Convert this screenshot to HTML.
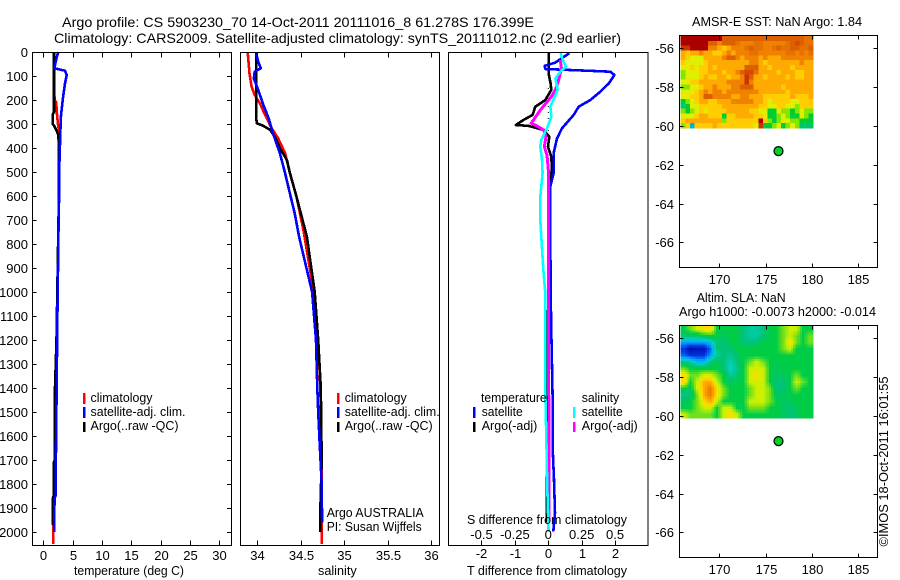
<!DOCTYPE html>
<html>
<head>
<meta charset="utf-8">
<title>Argo profile</title>
<style>
html,body{margin:0;padding:0;background:#fff;width:900px;height:580px;overflow:hidden}
svg{display:block}
text{font-family:"Liberation Sans",sans-serif;font-size:13px;fill:#000}
</style>
</head>
<body>
<svg id="chart" xmlns="http://www.w3.org/2000/svg" width="900" height="580" viewBox="0 0 900 580">
  <text x="62" y="27" font-size="14" style="font-size:14px" textLength="472" lengthAdjust="spacingAndGlyphs">Argo profile: CS 5903230_70 14-Oct-2011 20111016_8 61.278S 176.399E</text>
  <text x="54" y="43" style="font-size:14px" textLength="567" lengthAdjust="spacingAndGlyphs">Climatology: CARS2009. Satellite-adjusted climatology: synTS_20111012.nc (2.9d earlier)</text>
  <g id="marks"></g>
  <g id="frames"></g>

  <g>
    <rect x="83" y="393" width="2.5" height="11" fill="#f00"/>
    <rect x="83" y="407" width="2.5" height="11" fill="#00f"/>
    <rect x="83" y="422" width="2.5" height="10" fill="#000"/>
    <text x="90.5" y="402" textLength="62" lengthAdjust="spacingAndGlyphs">climatology</text>
    <text x="90.5" y="416" textLength="95" lengthAdjust="spacingAndGlyphs">satellite-adj. clim.</text>
    <text x="90.5" y="430" textLength="88" lengthAdjust="spacingAndGlyphs">Argo(..raw -QC)</text>
  </g>
  <g>
    <rect x="337" y="393" width="2.5" height="11" fill="#f00"/>
    <rect x="337" y="407" width="2.5" height="11" fill="#00f"/>
    <rect x="337" y="422" width="2.5" height="10" fill="#000"/>
    <text x="344.7" y="402" textLength="62" lengthAdjust="spacingAndGlyphs">climatology</text>
    <text x="344.7" y="416" textLength="95" lengthAdjust="spacingAndGlyphs">satellite-adj. clim.</text>
    <text x="344.7" y="430" textLength="88" lengthAdjust="spacingAndGlyphs">Argo(..raw -QC)</text>
    <text x="326.7" y="517" textLength="97" lengthAdjust="spacingAndGlyphs">Argo AUSTRALIA</text>
    <text x="326.7" y="531" textLength="95" lengthAdjust="spacingAndGlyphs">PI: Susan Wijffels</text>
  </g>
  <g>
    <text x="481" y="402" textLength="65.7" lengthAdjust="spacingAndGlyphs">temperature</text>
    <rect x="473" y="407" width="2.5" height="11" fill="#00f"/>
    <rect x="473" y="422" width="2.5" height="10" fill="#000"/>
    <text x="481.7" y="416" textLength="41" lengthAdjust="spacingAndGlyphs">satellite</text>
    <text x="481.7" y="430" textLength="55.6" lengthAdjust="spacingAndGlyphs">Argo(-adj)</text>
    <text x="581.7" y="402" textLength="37.5" lengthAdjust="spacingAndGlyphs">salinity</text>
    <rect x="573" y="407" width="2.5" height="11" fill="#0ff"/>
    <rect x="573" y="422" width="2.5" height="10" fill="#f0f"/>
    <text x="581.7" y="416" textLength="41" lengthAdjust="spacingAndGlyphs">satellite</text>
    <text x="581.7" y="430" textLength="56" lengthAdjust="spacingAndGlyphs">Argo(-adj)</text>
  </g>

  <text x="74" y="575" textLength="110" lengthAdjust="spacingAndGlyphs">temperature (deg C)</text>
  <text x="318" y="575" textLength="38.7" lengthAdjust="spacingAndGlyphs">salinity</text>
  <text x="467" y="575" textLength="160" lengthAdjust="spacingAndGlyphs">T difference from climatology</text>
  <text x="467" y="524" textLength="160" lengthAdjust="spacingAndGlyphs">S difference from climatology</text>

  <text x="692" y="26" textLength="170" lengthAdjust="spacingAndGlyphs">AMSR-E SST: NaN Argo: 1.84</text>
  <text x="696.7" y="302" textLength="89" lengthAdjust="spacingAndGlyphs">Altim. SLA: NaN</text>
  <text x="679" y="316" textLength="197" lengthAdjust="spacingAndGlyphs">Argo h1000: -0.0073 h2000: -0.014</text>
  <text transform="translate(888,546.5) rotate(-90)" textLength="170" lengthAdjust="spacingAndGlyphs">©IMOS 18-Oct-2011 16:01:55</text>
</svg>
<script>
// ---------- depth scale ----------
const depthTicks = [0,100,200,300,400,500,600,700,800,900,1000,1100,1200,1300,1400,1500,1600,1700,1800,1900,2000];

// ---------- temperature panel ----------
const tempTicks = [0,5,10,15,20,25,30];
const tempClimDepth = [0,100,200,210,250,290,330,400,600,900,1200,1400,1700,1970,2050];
const tempClimValue = [1.85,1.85,1.9,2.2,2.3,2.45,2.67,2.68,2.65,2.5,2.3,2.2,2.0,1.7,1.7];
const tempSatDepth = [0,20,68,78,96,131,200,270,340,478,600,700,900,1200,1400,1550,1700,1850,1860,2000];
const tempSatValue = [2.55,2.3,1.87,3.7,3.98,3.7,3.3,3.0,2.9,2.73,2.7,2.6,2.5,2.35,2.28,2.2,2.15,2.1,1.9,1.87];
const tempArgoDepth = [0,250,260,300,310,330,345,400,600,900,1200,1400,1490,1700,1710,1850,1860,1970];
const tempArgoValue = [1.82,1.82,1.6,1.6,1.9,2.3,2.55,2.68,2.65,2.45,2.25,2.0,2.0,2.0,1.77,1.77,1.6,1.6];

// ---------- salinity panel ----------
const salTicks = [34,34.5,35,35.5,36];
const salClimDepth = [0,89,144,179,214,262,318,360,422,505,603,742,1000,1200,1400,1700,2050];
const salClimValue = [33.89,33.91,33.935,33.97,34.03,34.09,34.165,34.24,34.32,34.375,34.45,34.53,34.65,34.7,34.725,34.74,34.74];
const salSatDepth = [5,40,68,82,110,158,221,276,339,422,505,589,672,770,1000,1200,1400,1500,1650,1800,1960];
const salSatValue = [33.985,34.01,34.04,33.97,33.96,34.01,34.07,34.13,34.18,34.26,34.32,34.375,34.43,34.48,34.63,34.675,34.69,34.7,34.72,34.74,34.745];
const salArgoDepth = [0,283,297,308,325,353,401,450,505,603,686,770,1000,1200,1400,1700,1900,2000];
const salArgoValue = [33.99,33.99,33.995,34.07,34.15,34.2,34.26,34.34,34.376,34.45,34.51,34.57,34.66,34.7,34.73,34.74,34.725,34.725];

// ---------- difference panel ----------
const diffTTicks = [-2,-1,0,1,2];
const diffSTicks = [-0.5,-0.25,0,0.25,0.5];
const diffSLabels = ['-0.5','-0.25','0','0.25','0.5'];
const diffZeroDepth = [150,400];
const diffTSatDepth = [5,44,58,71,78,82,96,131,165,200,228,262,318,360,422,505,561,800,1100,1436,1645,1783,1921,1998];
const diffTSatValue = [0.63,0.21,-0.11,-0.09,1.16,1.86,1.98,1.81,1.56,1.26,0.91,0.76,0.41,0.26,0.16,0.16,0.06,0.06,0.08,0.13,0.13,0.17,0.2,0.15];
const diffTArgoDepth = [0,89,131,158,200,228,262,283,304,308,325,353,394,436,492,533,600,1000,1400,1500,1825,1960];
const diffTArgoValue = [0.01,0.01,0.07,0.09,-0.09,-0.39,-0.47,-0.74,-0.97,-0.59,-0.14,0.03,-0.01,0.09,0.11,0.04,0.04,0,-0.04,-0.04,-0.05,-0.05];
const diffSSatDepth = [0,33,61,82,110,158,228,269,318,367,394,450,505,603,700,900,1000,1200,1400,1600,1800,2000];
const diffSSatValue = [0.09,0.108,0.133,0.09,0.053,0.07,0.015,0.023,-0.01,-0.053,-0.06,-0.047,-0.043,-0.06,-0.06,-0.038,-0.023,-0.023,-0.023,-0.015,-0.008,0.002];
const diffSArgoDepth = [33,68,117,158,186,242,297,308,325,353,394,429,505,600,1200,1950];
const diffSArgoValue = [0.09,0.098,0.077,0.053,0.023,-0.06,-0.128,-0.085,-0.035,-0.017,-0.03,-0.01,0.002,0.002,0.002,0.006];

// ---------- maps ----------
const lonTicks = [170,175,180,185];
const latTicks = [-56,-58,-60,-62,-64,-66];
const floatLon = [176.4];
const floatLat = [-61.3];
const sstLevels = [
[12,12,12,12,12,12,12,12,12,10,10,10,10,10,10,10,10,10,10,10,10,10,10,10,10,10,10,9.5,9.5],
[12,12,12,12,12,12,10,10,9,10,10,10,9.5,9,9,9,9.5,9.5,9,9,9,9,9,9.5,10,10.5,10,9.5,9.5],
[11,11,12,12,12,12,9,9,8,7,8,9,9,9,9.5,10,9.5,9.5,9,9,9.5,10,9.5,9.5,10,10,9.5,9.5,10],
[8,7,8,8,9,8,8,7,7,8,9,8,9,9,9,9.5,9.5,9,9,9,9,9,9,9.5,9.5,9,9.5,9,9.5],
[8,7,6,6,6,8,8,8,8,9,10,10,9,8,9,9,9,8,9,8,8,8,9,9,9,9,9,9,9],
[7,6,6,6,6,7,8,8,8,8,8,8,8,8,8,9,9,8,7,8,8,8,8,8,8,8,9,8,8],
[6,6,7,6,7,7,8,7,8,8,8,8,8,8,10,10,10,8,8,7,8,8,8,8,7,8,8,8,8],
[5,6,6,6,7,7,8,8,8,7,8,8,9,10,10.5,10.5,9.5,8,8,8,8,7,8,8,8,7,7,8,8],
[5,6,6,6,7,8,7,7,8,8,7,8,8,9,11,10,8,8,7,8,8,8,8,7,8,7,7,8,8],
[6,6,7,7,8,8,8,8,8,8,9,9,9,9,11,9,8,8,8,8,8,8,8,8,8,8,8,8,8],
[5,5,6,6,7,8,8,9,8,8,8,9,9,10,10,10,8,8,8,8,8,8,7,8,8,8,8,8,8],
[6,6,6,7,8,9,8,9,9,8,9,9,9,9,9,9,9,8,8,8,8,8,8,7,8,8,8,8,8],
[6,6,7,7,8,10,10,9,9,9,9,8,8,9,9,8,8,8,7,7,7,7,7,7,8,7,7,7,8],
[4,5,6,7,8,8,7,7,8,8,8,9,9,9,9,9,8,8,7,6,7,7,7,7,6,6,7,7,7],
[3.5,4,6,6,7,7,7,7,7,8,8,8,8,8,8,8,8,7,7,6,6,7,7,6,6,5,7,7,7],
[5,4,5,6,7,6,7,7,7,7,8,8,8,8,8,7,7,6,6,4,4,6,5,5,4,5,6,5,5],
[6,6,6,7,8,8,7,7,7,4,7,7,8,8,8,8,7,7,6,4,4,5,6,5,4,4,6,5,4],
[7,8,8,8,8,8,8,8,8,5,7,7,7,7,7,7,7,12,7,5,4,5,6,6,5,5,4,4,4],
[5,7,2.5,7,7,7,7,8,7,7,7,7,7,7,7,7,6,11,4,4,5,6,4,5,6,5,3.5,3.5,3.5]
];
const sstStops = [[0,0,150],[0,60,230],[0,170,255],[0,190,160],[0,205,50],[130,230,0],[225,238,0],[255,205,0],[255,170,0],[240,130,0],[220,95,0],[205,50,0],[170,0,0]];
const slaLevels = [
[5,6,7,8,8,5,5,5,5,4,3.5,3.5,4,5,5,6,7,7,5,5],
[4,4,4,4.5,5,5,4.5,5,5,4,3.5,3.5,4,5,5,6,7,6,5,6],
[2,2,2,2,2.5,4,4,5,5,4,4,4,5,5,5,6,8,6,5,6],
[1,0.3,0.5,0.5,1.5,4,4,4,5,5,5,5,5,5,5,6,7,5,5,5],
[1.5,1,1,1,2,3.5,4,3.7,4,5,5,5,5,5,5,5,5,5,5,5],
[4,3.5,2.5,2.5,4,5,4,3.2,4,5,6,7,6,5,5,5,5,5,5,5],
[6,5,5,5,5,5,4,3,3.7,5,7,7,7,5,4.5,5,5,5,5,5],
[8,6,6,7,7,6,5,3.5,4,5,7,8,7,5,4.5,4.5,5,6,5,5],
[8,5,7,9,9,7,5,4.5,5,5,7,7,7,5,4,4,5,7,6,5],
[5,4.5,7,9,10,8,6,5,5,5,6,7,7,6,4,4,5,6,5,5],
[3.7,4,6,9,10,8,6,5,5,5,6,7,7,6,4.5,4.5,5,5,5,5],
[4.5,5,6,8,9,7,5,5,5,5,7,7,7,6,5,4.5,4.5,5,5,5],
[5,5,6,7,7,5,7,7,5,5,6,6,6,5,5,4.5,4,4.5,5,5],
[7,6,6,6,6,5,7,8,7,5,5,5,5,5,5,4.5,4,4.5,5,5]
];
const slaStops = [[0,0,150],[0,50,220],[0,160,255],[0,210,200],[0,195,120],[0,205,70],[110,225,30],[205,240,0],[255,220,0],[255,170,0],[235,120,0],[210,70,0],[170,0,0]];

// ---------- axis functions ----------
const NS = 'http://www.w3.org/2000/svg';
const marks = document.getElementById('marks');
const frames = document.getElementById('frames');
const depthY = d => 52 + d * 0.24;
const tempX = v => 43.3 + v * 5.87;
const salX = v => 257.3 + (v - 34) * 87;
const diffTX = v => 548.3 + v * 33.4;
const diffSX = v => 548.3 + v * 133.6;
const lonX = v => 719.3 + (v - 170) * 9.25;
const sstLatY = v => 48.3 + (-56 - v) * 19.4;
const slaLatY = v => 338.3 + (-56 - v) * 19.4;

function make(tag, attrs, parent, txt) {
  const el = document.createElementNS(NS, tag);
  for (const k in attrs) el.setAttribute(k, attrs[k]);
  if (txt !== undefined) el.textContent = txt;
  parent.appendChild(el);
  
  return el;
}
function profile(name, depths, values, xf, color, width) {
  const pts = depths.map((d, i) => xf(values[i]).toFixed(1) + ',' + depthY(d).toFixed(1)).join(' ');
  const el = make('polyline', {points: pts, fill: 'none', stroke: color, 'stroke-width': width, 'stroke-linejoin': 'round', 'shape-rendering': 'crispEdges'}, marks);
  
}
function tickLine(name, x1, y1, x2, y2) {
  const el = make('line', {x1: x1, y1: y1, x2: x2, y2: y2, stroke: '#000', 'stroke-width': 1, 'shape-rendering': 'crispEdges'}, frames);
  
}
function label(name, x, y, anchor, str) {
  const el = make('text', {x: x, y: y, 'text-anchor': anchor}, frames, str);
  
}
function frame(name, x0, y0, x1, y1) {
  const el = make('rect', {x: x0, y: y0, width: x1 - x0, height: y1 - y0, fill: 'none', stroke: '#000', 'stroke-width': 1.4, 'shape-rendering': 'crispEdges'}, frames);
  
}
function levelColor(v, stops) {
  const i = Math.min(Math.floor(v), stops.length - 2), f = v - i;
  return 'rgb(' + stops[i].map((s, k) => Math.round(s + (stops[i + 1][k] - s) * f)).join(',') + ')';
}
function heat(name, levels, stops, x0, x1, y0, y1) {
  const rows = levels.length, cols = levels[0].length;
  const w = (x1 - x0) / cols, h = (y1 - y0) / rows;
  levels.forEach((row, r) => row.forEach((v, c) => {
    const el = make('rect', {x: (x0 + c * w).toFixed(2), y: (y0 + r * h).toFixed(2), width: (w + 0.5).toFixed(2), height: (h + 0.5).toFixed(2), fill: levelColor(v, stops), 'shape-rendering': 'crispEdges'}, marks);
    
  }));
}
// the altimetry field is shaded smoothly, so each data cell is drawn as sub-cells
function smoothHeat(name, levels, stops, x0, x1, y0, y1, sub) {
  const rows = levels.length, cols = levels[0].length;
  const w = (x1 - x0) / cols / sub, h = (y1 - y0) / rows / sub;
  const at = (r, c) => levels[Math.max(0, Math.min(rows - 1, r))][Math.max(0, Math.min(cols - 1, c))];
  for (let r = 0; r < rows * sub; r++) {
    for (let c = 0; c < cols * sub; c++) {
      const gr = (r + 0.5) / sub - 0.5, gc = (c + 0.5) / sub - 0.5;
      const r0 = Math.floor(gr), c0 = Math.floor(gc), fr = gr - r0, fc = gc - c0;
      const top = at(r0, c0) * (1 - fc) + at(r0, c0 + 1) * fc;
      const bot = at(r0 + 1, c0) * (1 - fc) + at(r0 + 1, c0 + 1) * fc;
      const v = top * (1 - fr) + bot * fr;
      const el = make('rect', {x: (x0 + c * w).toFixed(2), y: (y0 + r * h).toFixed(2), width: (w + 0.5).toFixed(2), height: (h + 0.5).toFixed(2), fill: levelColor(v, stops), 'shape-rendering': 'crispEdges'}, marks);
      
    }
  }
}
function floatDot(name, cx, cy) {
  const el = make('circle', {cx: cx, cy: cy, r: 4.5, fill: '#00d228', stroke: '#000', 'stroke-width': 1.2}, marks);
  
}

// ---------- temperature ----------
profile('temperature-climatology-line', tempClimDepth, tempClimValue, tempX, '#f00', 2.6);
profile('temperature-argo-line', tempArgoDepth, tempArgoValue, tempX, '#000', 2.6);
profile('temperature-satellite-line', tempSatDepth, tempSatValue, tempX, '#00f', 2.6);
// ---------- salinity ----------
profile('salinity-climatology-line', salClimDepth, salClimValue, salX, '#f00', 2.6);
profile('salinity-argo-line', salArgoDepth, salArgoValue, salX, '#000', 2.6);
profile('salinity-satellite-line', salSatDepth, salSatValue, salX, '#00f', 2.6);
// ---------- differences ----------
const zeroLine = make('polyline', {points: diffZeroDepth.map(d => diffTX(0) + ',' + depthY(d)).join(' '), fill: 'none', stroke: '#000', 'stroke-width': 1, 'stroke-dasharray': '1 5'}, marks);

profile('t-difference-argo-line', diffTArgoDepth, diffTArgoValue, diffTX, '#000', 2.6);
profile('t-difference-satellite-line', diffTSatDepth, diffTSatValue, diffTX, '#00f', 2.6);
profile('s-difference-argo-line', diffSArgoDepth, diffSArgoValue, diffSX, '#f0f', 3);
profile('s-difference-satellite-line', diffSSatDepth, diffSSatValue, diffSX, '#0ff', 2.6);
// ---------- maps ----------
heat('sst-cell', sstLevels, sstStops, 680.7, 813, 36, 128);
smoothHeat('sla-cell', slaLevels, slaStops, 680.7, 813, 326, 418, 3);
floatDot('sst-map-float-position', lonX(floatLon[0]), sstLatY(floatLat[0]));
floatDot('sla-map-float-position', lonX(floatLon[0]), slaLatY(floatLat[0]));

// ---------- frames and ticks ----------
const TOP = 52.5, BOT = 545.5;
frame('temperature-plot-frame', 32.5, TOP, 231.5, BOT);
frame('salinity-plot-frame', 240.5, TOP, 439.5, BOT);
frame('difference-plot-frame', 448.5, TOP, 648, BOT);
frame('sst-map-frame', 679.5, 35.5, 877.5, 267.5);
frame('sla-map-frame', 679.5, 325.5, 877.5, 557.5);

depthTicks.forEach(d => {
  const y = Math.round(depthY(d)) + 0.5;
  tickLine('depth-tick', 32.5, y, 36.5, y);
  tickLine('depth-tick', 227, y, 231.5, y);
  label('depth-tick-label', 28, y + 4.5, 'end', String(d));
});
tempTicks.forEach(v => {
  const x = Math.round(tempX(v)) + 0.5;
  tickLine('temperature-tick', x, TOP, x, TOP + 5);
  tickLine('temperature-tick', x, BOT, x, BOT - 5);
  label('temperature-tick-label', x, 560, 'middle', String(v));
});
salTicks.forEach(v => {
  const x = Math.round(salX(v)) + 0.5;
  tickLine('salinity-tick', x, TOP, x, TOP + 5);
  tickLine('salinity-tick', x, BOT, x, BOT - 5);
  label('salinity-tick-label', x, 560, 'middle', String(v));
});
diffTTicks.forEach(v => {
  const x = Math.round(diffTX(v)) + 0.5;
  tickLine('t-difference-tick', x, TOP, x, TOP + 5);
  tickLine('t-difference-tick', x, BOT, x, BOT - 5);
  label('t-difference-tick-label', x, 558, 'middle', String(v));
});
diffSTicks.forEach((v, i) => {
  label('s-difference-tick-label', diffSX(v), 539, 'middle', diffSLabels[i]);
});
[[35.5, 267.5, 284, sstLatY, 'sst'], [325.5, 557.5, 574, slaLatY, 'sla']].forEach(m => {
  lonTicks.forEach(v => {
    const x = Math.round(lonX(v)) + 0.5;
    tickLine(m[4] + '-lon-tick', x, m[0], x, m[0] + 4);
    tickLine(m[4] + '-lon-tick', x, m[1], x, m[1] - 4);
    label(m[4] + '-lon-tick-label', x, m[2], 'middle', String(v));
  });
  latTicks.forEach(v => {
    const y = Math.round(m[3](v)) + 0.5;
    tickLine(m[4] + '-lat-tick', 679.5, y, 683.5, y);
    tickLine(m[4] + '-lat-tick', 873.5, y, 877.5, y);
    label(m[4] + '-lat-tick-label', 674, y + 4.5, 'end', String(v));
  });
});
</script>
</body>
</html>
